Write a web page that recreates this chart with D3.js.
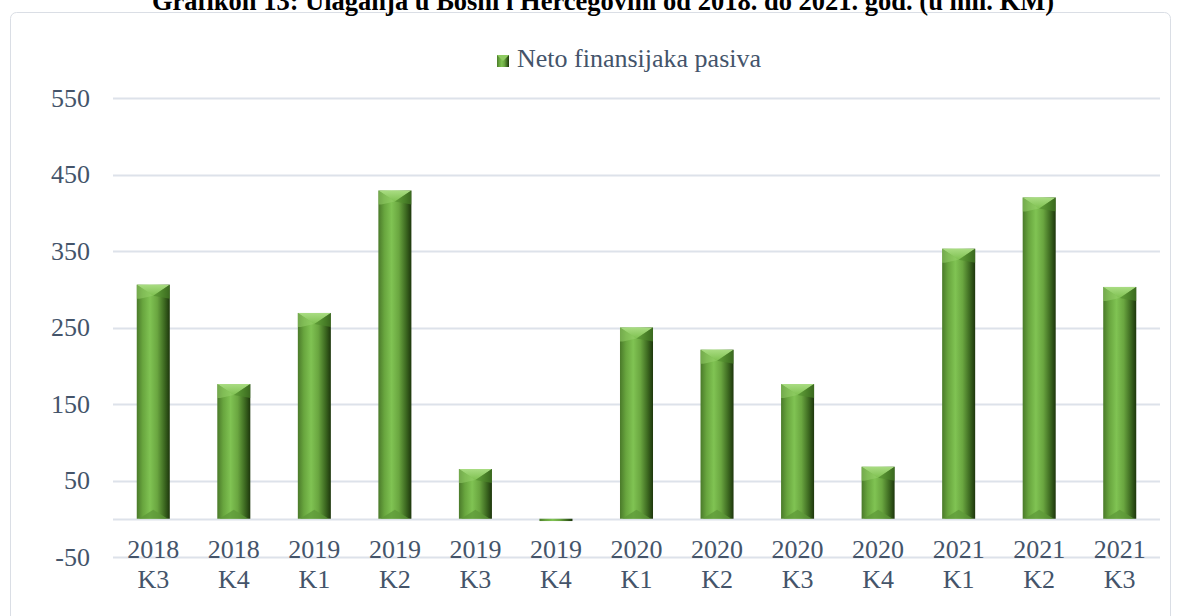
<!DOCTYPE html>
<html>
<head>
<meta charset="utf-8">
<script src="https://cdn.jsdelivr.net/npm/d3@7"></script>
<style>
  body { margin: 0; background: #fff; }
  svg { display: block; font-family: "Liberation Serif", "Times New Roman", serif; }
</style>
</head>
<body>
<svg id="chart" width="1181" height="616"></svg>
<script>
"use strict"

// data
const years = ["2018", "2018", "2019", "2019", "2019", "2019", "2020", "2020", "2020", "2020", "2021", "2021", "2021"];
const quarters = ["K3", "K4", "K1", "K2", "K3", "K4", "K1", "K2", "K3", "K4", "K1", "K2", "K3"];
const values = [306, 176, 269, 429, 65, -3, 250, 221, 176, 68, 353, 420, 303];
const yTicks = [-50, 50, 150, 250, 350, 450, 550];
const seriesName = "Neto finansijaka pasiva";
const title = "Grafikon 13: Ulaganja u Bosni i Hercegovini od 2018. do 2021. god. (u mil. KM)";

const svg = d3.select("#chart");
const width = 1181, height = 616;
const margin = { left: 113, right: 21, top: 98, bottom: 59 };

const labels = years.map((y, i) => y + "|" + quarters[i]);
const data = values.map((v, i) => ({ key: labels[i], value: v }));

const x = d3.scaleBand()
    .domain(labels)
    .range([margin.left, width - margin.right])
    .paddingInner(0.59)
    .paddingOuter(0.295);

const y = d3.scaleLinear()
    .domain([-50, 550])
    .range([height - margin.bottom, margin.top]);

// gradients
const defs = svg.append("defs");
const grad = defs.append("linearGradient").attr("id", "barGrad")
    .attr("x1", "0").attr("x2", "1").attr("y1", "0").attr("y2", "0");
[[0, "#4a7a2a"], [0.18, "#68a53e"], [0.4, "#80c353"], [0.62, "#6aa640"], [0.84, "#3c6820"], [1, "#1d360c"]]
    .forEach(s => grad.append("stop").attr("offset", s[0]).attr("stop-color", s[1]));

const topGrad = defs.append("linearGradient").attr("id", "topGrad")
    .attr("x1", "0").attr("x2", "0").attr("y1", "0").attr("y2", "1");
topGrad.append("stop").attr("offset", 0).attr("stop-color", "#a9dc82");
topGrad.append("stop").attr("offset", 1).attr("stop-color", "#7fc151");

// frame
svg.append("rect")
    .attr("x", 10.5).attr("y", 12.5)
    .attr("width", 1160).attr("height", 640)
    .attr("rx", 6)
    .attr("fill", "none")
    .attr("stroke", "#dadee5");

// title (clipped at the top, as in the source image)
svg.append("text")
    .attr("x", 603).attr("y", 10)
    .attr("text-anchor", "middle")
    .attr("font-size", 26.5)
    .attr("font-weight", "bold")
    .attr("fill", "#000")
    .text(title);

// grid
svg.append("g").selectAll("line")
    .data(yTicks.concat([0]))
    .enter().append("line")
    .attr("x1", margin.left).attr("x2", width - margin.right)
    .attr("y1", d => Math.round(y(d)) + 0.5)
    .attr("y2", d => Math.round(y(d)) + 0.5)
    .attr("stroke", "#dde2ea")
    .attr("stroke-width", 2);

// y axis labels
const yAxis = d3.axisLeft(y).tickValues(yTicks).tickSize(0).tickPadding(23)
    .tickFormat(d => String(d));
const gy = svg.append("g")
    .attr("transform", "translate(" + margin.left + ",0)")
    .call(yAxis);
gy.select(".domain").remove();
gy.selectAll("text")
    .attr("font-family", "Liberation Serif, serif")
    .attr("font-size", 26)
    .attr("fill", "#44546a");

// bars
const bw = x.bandwidth();
const bars = svg.append("g").selectAll("g")
    .data(data)
    .enter().append("g");

bars.append("rect")
    .attr("x", d => x(d.key))
    .attr("y", d => y(Math.max(d.value, 0)))
    .attr("width", bw)
    .attr("height", d => Math.abs(y(d.value) - y(0)))
    .attr("fill", "url(#barGrad)");

const tall = bars.filter(d => d.value > 20);
const b = 11;

// top bevel
tall.append("path")
    .attr("d", d => {
        const x0 = x(d.key), y0 = y(d.value);
        return "M" + x0 + "," + y0 + "L" + (x0 + bw) + "," + y0 +
            "L" + (x0 + bw / 2) + "," + (y0 + b) + "Z";
    })
    .attr("fill", "url(#topGrad)");
tall.append("path")
    .attr("d", d => {
        const x0 = x(d.key), y0 = y(d.value);
        return "M" + x0 + "," + y0 + "L" + (x0 + bw / 2) + "," + (y0 + b) +
            "L" + (x0 + 3) + "," + (y0 + b + 3) + "L" + x0 + "," + (y0 + b + 3) + "Z";
    })
    .attr("fill", "#95cf6a").attr("opacity", 0.55);
tall.append("path")
    .attr("d", d => {
        const x0 = x(d.key), y0 = y(d.value);
        return "M" + (x0 + bw) + "," + y0 + "L" + (x0 + bw / 2) + "," + (y0 + b) +
            "L" + (x0 + bw) + "," + (y0 + b + 3) + "Z";
    })
    .attr("fill", "#4f8a2c").attr("opacity", 0.6);

// bottom bevel
tall.append("path")
    .attr("d", d => {
        const x0 = x(d.key), y0 = y(0);
        return "M" + (x0 + 2) + "," + y0 + "L" + (x0 + bw - 2) + "," + y0 +
            "L" + (x0 + bw / 2) + "," + (y0 - b + 2) + "Z";
    })
    .attr("fill", "#5d9838").attr("opacity", 0.75);

// x labels
const xl = svg.append("g").selectAll("text")
    .data(labels)
    .enter().append("text")
    .attr("text-anchor", "middle")
    .attr("font-size", 26)
    .attr("fill", "#44546a");
xl.append("tspan").attr("x", d => x(d) + bw / 2).attr("y", 558).text(d => d.split("|")[0]);
xl.append("tspan").attr("x", d => x(d) + bw / 2).attr("y", 588).text(d => d.split("|")[1]);

// legend
const lg = svg.append("g").attr("transform", "translate(497,55)");
lg.append("rect").attr("width", 12).attr("height", 12).attr("fill", "url(#barGrad)");
lg.append("path").attr("d", "M0,0L12,0L6,6Z").attr("fill", "#8fcb62");
lg.append("text").attr("x", 20).attr("y", 12)
    .attr("font-size", 26)
    .attr("fill", "#44546a")
    .text(seriesName);
</script>
</body>
</html>
